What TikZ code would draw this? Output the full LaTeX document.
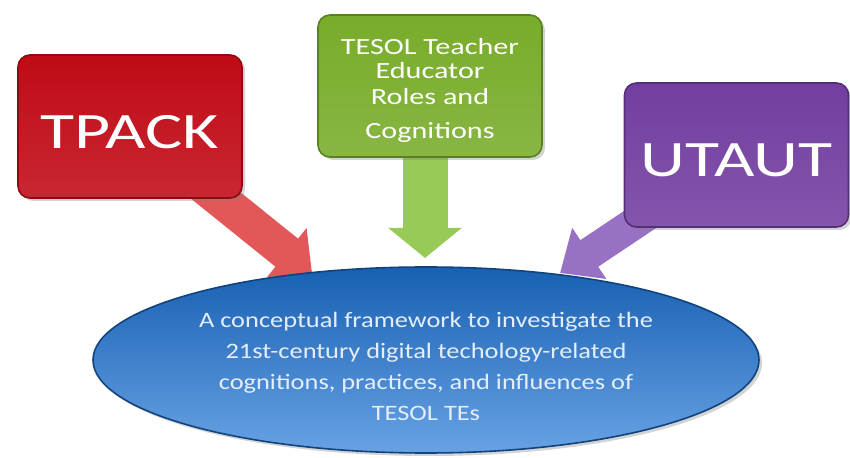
\documentclass[tikz,border=0pt]{standalone}
\usepackage{fontspec}
\setmainfont{Carlito}
\usetikzlibrary{arrows.meta,shapes.geometric,shadows}

\definecolor{redbox}{RGB}{192,10,22}
\definecolor{redarrow}{RGB}{226,88,88}
\definecolor{greenbox}{RGB}{120,172,42}
\definecolor{greenarrow}{RGB}{152,202,88}
\definecolor{purplebox}{RGB}{114,62,160}
\definecolor{purplearrow}{RGB}{152,112,196}
\definecolor{frametop}{RGB}{24,96,178}
\definecolor{framebottom}{RGB}{104,162,228}
\definecolor{frametext}{RGB}{228,238,250}

\newcommand{\wtext}[1]{\scalebox{1.3}[1]{#1}}
\newcommand{\wword}[1]{\scalebox{1.37}[1]{#1}}
\newcommand{\wline}[1]{\scalebox{1.2}[1]{#1}}

\pgfdeclarelayer{background}
\pgfsetlayers{background,main}

\tikzset{%
	topicbox/.style={rectangle,rounded corners=6pt,inner sep=0pt,minimum width=112pt,minimum height=71.5pt,text=white,draw=#1!75!black,thick,top color=#1,bottom color=#1!88!white,drop shadow={shadow xshift=1.5pt,shadow yshift=-1.5pt,opacity=0.35}},
	bigword/.style={font=\fontsize{25.5pt}{30pt}\selectfont},
	blockarrow/.style={draw=#1,-{Triangle[length=0pt 0.9,width=0pt 1.7]}},
	framework/.style={ellipse,inner sep=0pt,minimum width=333pt,minimum height=93pt,draw=frametop!70!black,thick,top color=frametop,bottom color=framebottom,text=frametext,align=center,font=\fontsize{11pt}{15.4pt}\selectfont,drop shadow={shadow xshift=1.5pt,shadow yshift=-1.5pt,opacity=0.35}},
}

\begin{document}
\begin{tikzpicture}[x=0.5pt,y=-0.5pt]
	\useasboundingbox (0,0) rectangle (850,458);

	%BOXES
	\node[topicbox=redbox,bigword] (tpack) at (130,126.5) {\rule{0pt}{22pt}\wword{TPACK}};
	\node[topicbox=greenbox,minimum height=71pt,align=center,font=\fontsize{11.6pt}{12.5pt}\selectfont] (tesol) at (430,86) {\rule{0pt}{12pt}\wtext{TESOL Teacher}\\ \wtext{Educator}\\ \wtext{Roles and}\\[4.5pt] \wtext{Cognitions}};
	\node[topicbox=purplebox,minimum height=72pt,bigword] (utaut) at (736.5,155) {\rule{0pt}{22pt}\wword{UTAUT}};

	%ELLIPSE
	\node[framework] (frame) at (426,360) {\rule{0pt}{14pt}\wline{A conceptual framework to investigate the}\\ \wline{21st-century digital techology-related}\\ \wline{cognitions, practices, and influences of}\\ \wline{TESOL TEs}};

	%TIPS
	\coordinate (tipa) at (312,273);
	\coordinate (tipb) at (425,258);
	\coordinate (tipc) at (560,273);

	%ARROWS
	\begin{pgfonlayer}{background}
		\draw[blockarrow=redarrow,line width=18pt] (tpack.center) -- (tipa);
		\draw[blockarrow=greenarrow,line width=22.5pt,-{Triangle[length=0pt 0.67,width=0pt 1.6]}] ([xshift=-2.5pt]tesol.center) -- (tipb);
		\draw[blockarrow=purplearrow,line width=16pt,-{Triangle[length=0pt 1.1,width=0pt 1.85]}] (utaut.center) -- (tipc);
	\end{pgfonlayer}
\end{tikzpicture}
\end{document}
